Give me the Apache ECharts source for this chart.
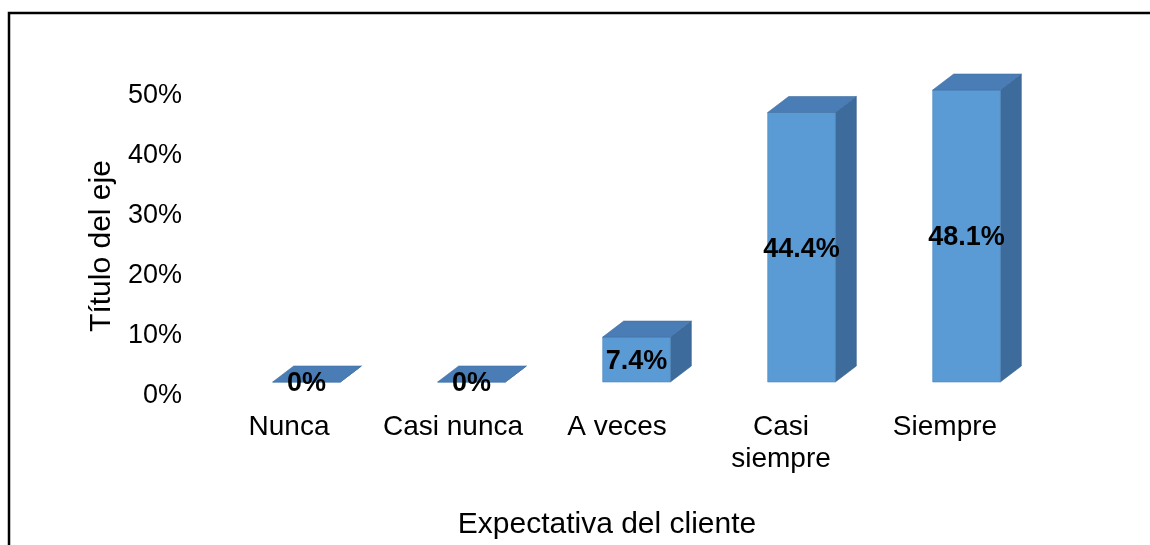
<!DOCTYPE html>
<html>
<head>
<meta charset="utf-8">
<script src="https://cdn.jsdelivr.net/npm/echarts@6/dist/echarts.min.js"></script>
<style>
html,body{margin:0;padding:0;background:#fff;}
#chart{width:1150px;height:545px;}
</style>
</head>
<body>
<div id="chart"></div>
<script>
const categories = ['Nunca', 'Casi nunca', 'A veces', 'Casi\nsiempre', 'Siempre'];
const values = [0, 0, 7.4, 44.4, 48.1];
const yTicks = [0, 10, 20, 30, 40, 50];
const yAxisTitle = 'Título del eje';
const xAxisTitle = 'Expectativa del cliente';

const FONT = '"Liberation Sans", Arial, sans-serif';
const DX = 21, DY = -16;

const chart = echarts.init(document.getElementById('chart'));

function renderBar(params, api) {
  const cat = api.value(0);
  const v = api.value(1);
  const top = api.coord([cat, v]);
  const base = api.coord([cat, 0]);
  const w = api.size([1, 0])[0] * 0.41;
  const xl = top[0] - w / 2, xr = top[0] + w / 2;
  const yt = top[1], yb = base[1];
  const children = [
    { type: 'polygon', shape: { points: [[xr, yt], [xr + DX, yt + DY], [xr + DX, yb + DY], [xr, yb]] },
      style: { fill: '#3d6b9c', stroke: '#36608c', lineWidth: 0.6 } },
    { type: 'rect', shape: { x: xl, y: yt, width: w, height: yb - yt },
      style: { fill: '#5b9bd5', stroke: '#4f88bd', lineWidth: 0.6 } },
    { type: 'polygon', shape: { points: [[xl, yt], [xr, yt], [xr + DX, yt + DY], [xl + DX, yt + DY]] },
      style: { fill: '#4a7db5', stroke: '#416fa3', lineWidth: 0.6 } },
    { type: 'text', x: top[0], y: (yt + yb) / 2 + 2,
      style: { text: v + '%', fill: '#000', font: 'bold 27px ' + FONT, align: 'center', verticalAlign: 'middle' } }
  ];
  return { type: 'group', children };
}

chart.setOption({
  animation: false,
  backgroundColor: '#fff',
  grid: [
    { left: 207, right: 123, top: 96, bottom: 143 },
    { left: 224, right: 101, top: 78.5, bottom: 163 }
  ],
  xAxis: [
    { type: 'category', gridIndex: 0, data: categories,
      axisLine: { show: false }, axisTick: { show: false },
      axisLabel: { color: '#000', fontFamily: FONT, fontSize: 28, lineHeight: 32, margin: 15, interval: 0 },
      name: xAxisTitle, nameLocation: 'middle', nameGap: 114,
      nameTextStyle: { color: '#000', fontFamily: FONT, fontSize: 30, padding: [0, 20, 0, 0] } },
    { type: 'category', gridIndex: 1, data: categories, show: false }
  ],
  yAxis: [
    { type: 'value', gridIndex: 0, min: yTicks[0], max: yTicks[yTicks.length - 1], interval: 10,
      axisLine: { show: false }, axisTick: { show: false }, splitLine: { show: false },
      axisLabel: { color: '#000', fontFamily: FONT, fontSize: 27, margin: 25, formatter: '{value}%' },
      name: yAxisTitle, nameLocation: 'middle', nameRotate: 90, nameGap: 86,
      nameTextStyle: { color: '#000', fontFamily: FONT, fontSize: 30 } },
    { type: 'value', gridIndex: 1, min: 0, max: 50, show: false }
  ],
  series: [
    { type: 'custom', xAxisIndex: 1, yAxisIndex: 1, clip: false,
      data: values.map((v, i) => [i, v]), renderItem: renderBar }
  ],
  graphic: [
    { type: 'polyline', silent: true,
      shape: { points: [[9, 545], [9, 13], [1150, 13]] },
      style: { stroke: '#000', lineWidth: 2.5, fill: null } }
  ]
});
</script>
</body>
</html>
